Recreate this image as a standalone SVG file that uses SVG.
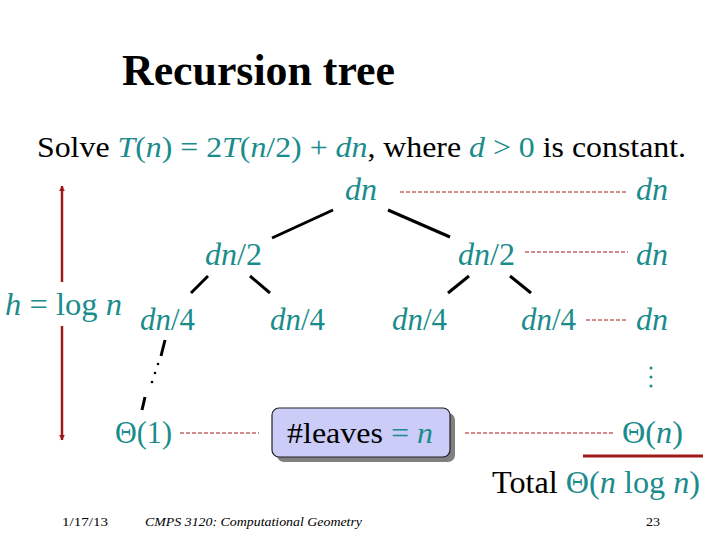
<svg xmlns="http://www.w3.org/2000/svg" width="720" height="540" viewBox="0 0 720 540" font-family="'Liberation Serif','Times New Roman',serif">
<defs>
<style>
text{font-family:"Liberation Serif","Times New Roman",serif;}
.t{fill:#1a8c8c;}
.i{font-style:italic;}
.lab{font-size:31px;fill:#1a8c8c;}
.edge{stroke:#000;stroke-width:3;}
.dash{stroke:#a01818;stroke-width:1;stroke-dasharray:4 2;fill:none;}
</style>
<marker id="ah" viewBox="0 0 10 10" refX="9" refY="5" markerWidth="6" markerHeight="8" orient="auto-start-reverse" markerUnits="userSpaceOnUse">
<path d="M0,0 L10,5 L0,10 z" fill="#a01818"/>
</marker>
</defs>
<rect width="720" height="540" fill="#fff"/>
<text x="122" y="85" font-size="44" font-weight="bold" textLength="273" lengthAdjust="spacingAndGlyphs">Recursion tree</text>
<text x="37" y="157" font-size="30" textLength="649" lengthAdjust="spacingAndGlyphs">Solve <tspan class="t"><tspan class="i">T</tspan>(<tspan class="i">n</tspan>) = 2<tspan class="i">T</tspan>(<tspan class="i">n</tspan>/2) + <tspan class="i">dn</tspan></tspan>, where <tspan class="t"><tspan class="i">d</tspan> &gt; 0</tspan> is constant.</text>

<g id="connectors">
<line class="edge" x1="333" y1="210" x2="272" y2="238"/>
<line class="edge" x1="388" y1="210" x2="450" y2="237"/>
<line class="edge" x1="208" y1="276" x2="191" y2="293"/>
<line class="edge" x1="250" y1="276" x2="270" y2="293"/>
<line class="edge" x1="469" y1="276" x2="448" y2="293"/>
<line class="edge" x1="510" y1="276" x2="531" y2="293"/>
<line class="edge" x1="165" y1="340" x2="161" y2="356"/>
<line class="edge" x1="145" y1="397" x2="142" y2="410"/>
<g fill="#000"><circle cx="158" cy="364" r="1.3"/><circle cx="155" cy="373" r="1.3"/><circle cx="152" cy="382" r="1.3"/></g>
<line class="dash" x1="400" y1="192" x2="628" y2="192"/>
<line class="dash" x1="525" y1="252" x2="628" y2="252"/>
<line class="dash" x1="586" y1="320" x2="628" y2="320"/>
<line class="dash" x1="180" y1="433" x2="259" y2="433"/>
<line class="dash" x1="465" y1="433" x2="614" y2="433"/>
<line x1="62" y1="282" x2="62" y2="186" stroke="#a01818" stroke-width="2.5" marker-end="url(#ah)"/>
<line x1="62" y1="326" x2="62" y2="440" stroke="#a01818" stroke-width="2.5" marker-end="url(#ah)"/>
<line x1="583" y1="456" x2="703" y2="456" stroke="#a01818" stroke-width="3"/>
</g>

<g id="root"><text class="lab i" x="345" y="200" textLength="32" lengthAdjust="spacingAndGlyphs">dn</text></g>
<g id="sum0"><text class="lab i" x="636" y="200" textLength="32" lengthAdjust="spacingAndGlyphs">dn</text></g>
<g id="n2a"><text class="lab" x="205" y="265" textLength="57" lengthAdjust="spacingAndGlyphs"><tspan class="i">dn</tspan>/2</text></g>
<g id="n2b"><text class="lab" x="458" y="265" textLength="57" lengthAdjust="spacingAndGlyphs"><tspan class="i">dn</tspan>/2</text></g>
<g id="sum1"><text class="lab i" x="636" y="265" textLength="32" lengthAdjust="spacingAndGlyphs">dn</text></g>
<g id="height"><text class="lab" x="5" y="315" textLength="117" lengthAdjust="spacingAndGlyphs"><tspan class="i">h</tspan> = log <tspan class="i">n</tspan></text></g>
<g id="n4a"><text class="lab" x="140" y="330" textLength="55" lengthAdjust="spacingAndGlyphs"><tspan class="i">dn</tspan>/4</text></g>
<g id="n4b"><text class="lab" x="270" y="330" textLength="55" lengthAdjust="spacingAndGlyphs"><tspan class="i">dn</tspan>/4</text></g>
<g id="n4c"><text class="lab" x="392" y="330" textLength="55" lengthAdjust="spacingAndGlyphs"><tspan class="i">dn</tspan>/4</text></g>
<g id="n4d"><text class="lab" x="521" y="330" textLength="55" lengthAdjust="spacingAndGlyphs"><tspan class="i">dn</tspan>/4</text></g>
<g id="sum2"><text class="lab i" x="636" y="330" textLength="32" lengthAdjust="spacingAndGlyphs">dn</text></g>
<g id="vdots" fill="#1a8c8c"><circle cx="651" cy="368" r="1.5"/><circle cx="651" cy="377" r="1.5"/><circle cx="651" cy="386" r="1.5"/></g>
<g id="leaf"><text class="lab" x="115" y="443" textLength="57" lengthAdjust="spacingAndGlyphs">Θ(1)</text></g>
<g id="leaves">
<rect x="277" y="413" width="178" height="49" rx="7" fill="#808080"/>
<rect x="272" y="408" width="178" height="49" rx="7" fill="#ccccf8" stroke="#222" stroke-width="1.2"/>
<text x="287" y="443" font-size="30" textLength="146" lengthAdjust="spacingAndGlyphs">#leaves <tspan class="t">= <tspan class="i">n</tspan></tspan></text>
</g>
<g id="sumleaf"><text class="lab" x="622" y="443" textLength="61" lengthAdjust="spacingAndGlyphs">Θ(<tspan class="i">n</tspan>)</text></g>
<g id="total"><text x="492" y="493" font-size="31" textLength="208" lengthAdjust="spacingAndGlyphs">Total <tspan class="t">Θ(<tspan class="i">n</tspan> log <tspan class="i">n</tspan>)</tspan></text></g>
<g id="footer" font-size="13">
<text x="62" y="526" textLength="46" lengthAdjust="spacingAndGlyphs">1/17/13</text>
<text x="145" y="526" font-style="italic" textLength="217" lengthAdjust="spacingAndGlyphs">CMPS 3120: Computational Geometry</text>
<text x="646" y="526" textLength="14" lengthAdjust="spacingAndGlyphs">23</text>
</g>
</svg>
